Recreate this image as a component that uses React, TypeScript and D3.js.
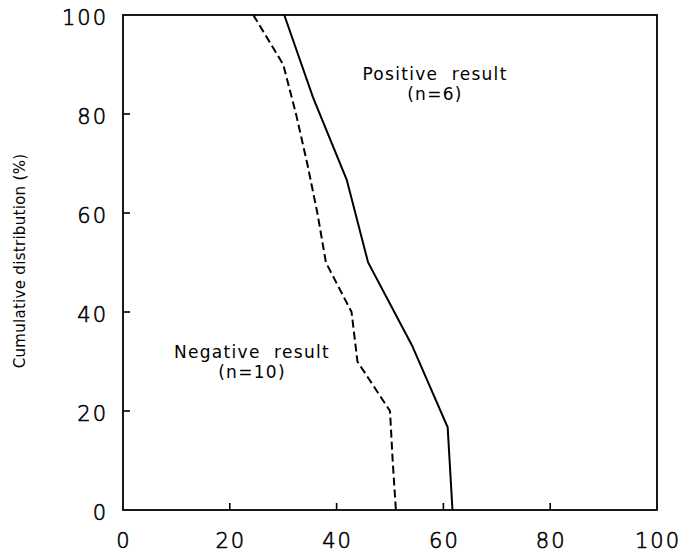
import React from "react";
import * as d3 from "d3";

// cumulative distribution data
const positiveX = [30.2, 35.6, 41.9, 45.9, 54.1, 60.8, 61.7];
const positiveY = [100, 83.3, 66.7, 50, 33.3, 16.7, 0];

const negativeX = [24.4, 30.0, 32.4, 34.5, 36.4, 38.0, 42.8, 43.9, 50.0, 50.5, 51.1];
const negativeY = [100, 90, 80, 70, 60, 50, 40, 30, 20, 10, 0];

const xTicks = [0, 20, 40, 60, 80, 100];
const yTicks = [0, 20, 40, 60, 80, 100];

const W = 683;
const H = 555;
const margin = { top: 15, right: 26, bottom: 45, left: 123 };

export default function App() {
  const x = d3.scaleLinear().domain([0, 100]).range([margin.left, W - margin.right]);
  const y = d3.scaleLinear().domain([0, 100]).range([H - margin.bottom, margin.top]);

  const makePath = (xs: number[], ys: number[]) =>
    d3
      .line<number>()
      .x((d) => x(d))
      .y((_, i) => y(ys[i]))(xs) || "";

  const font = "'DejaVu Sans', sans-serif";
  const tickLen = 7;
  const labelStyle = { whiteSpace: "pre" as const };

  return (
    <svg
      width={W}
      height={H}
      style={{ position: "absolute", left: 0, top: 0, background: "#fff" }}
    >
      {/* frame */}
      <rect
        x={x(0)}
        y={y(100)}
        width={x(100) - x(0)}
        height={y(0) - y(100)}
        fill="none"
        stroke="#000"
        strokeWidth={1.8}
      />
      {/* ticks, inward */}
      {yTicks.filter((t) => t > 0 && t < 100).map((t) => (
        <line key={"yt" + t} x1={x(0)} x2={x(0) + tickLen} y1={y(t)} y2={y(t)} stroke="#000" strokeWidth={1.6} />
      ))}
      {xTicks.filter((t) => t > 0 && t < 100).map((t) => (
        <line key={"xt" + t} x1={x(t)} x2={x(t)} y1={y(0)} y2={y(0) - tickLen} stroke="#000" strokeWidth={1.6} />
      ))}
      {/* tick labels */}
      {yTicks.map((t) => (
        <text
          key={"yl" + t}
          x={x(0) - 15}
          y={y(t) + 10}
          textAnchor="end"
          fontFamily={font}
          fontWeight={200}
          fontSize={21}
          letterSpacing={2}
          fill="#000"
          stroke="#000"
          strokeWidth={0.6}
        >
          {t}
        </text>
      ))}
      {xTicks.map((t) => (
        <text
          key={"xl" + t}
          x={x(t) + 1}
          y={548}
          textAnchor="middle"
          fontFamily={font}
          fontWeight={200}
          fontSize={21}
          letterSpacing={2}
          fill="#000"
          stroke="#000"
          strokeWidth={0.6}
        >
          {t}
        </text>
      ))}
      {/* axis title */}
      <text
        transform={`translate(25, ${261}) rotate(-90)`}
        textAnchor="middle"
        fontFamily={font}
        fontSize={15}
        letterSpacing={0.3}
        fill="#000"
      >
        Cumulative distribution (%)
      </text>
      {/* series */}
      <path d={makePath(positiveX, positiveY)} fill="none" stroke="#000" strokeWidth={2} />
      <path
        d={makePath(negativeX, negativeY)}
        fill="none"
        stroke="#000"
        strokeWidth={2}
        strokeDasharray="8,4"
      />
      {/* annotations */}
      <text x={435} y={80} textAnchor="middle" fontFamily={font} fontSize={17} letterSpacing={1.3} fill="#000" style={labelStyle}>
        {"Positive  result"}
      </text>
      <text x={435} y={100} textAnchor="middle" fontFamily={font} fontSize={17} letterSpacing={1.3} fill="#000" style={labelStyle}>
        (n=6)
      </text>
      <text x={252} y={358} textAnchor="middle" fontFamily={font} fontSize={17} letterSpacing={1.3} fill="#000" style={labelStyle}>
        {"Negative  result"}
      </text>
      <text x={252} y={378} textAnchor="middle" fontFamily={font} fontSize={17} letterSpacing={1.3} fill="#000" style={labelStyle}>
        (n=10)
      </text>
    </svg>
  );
}
